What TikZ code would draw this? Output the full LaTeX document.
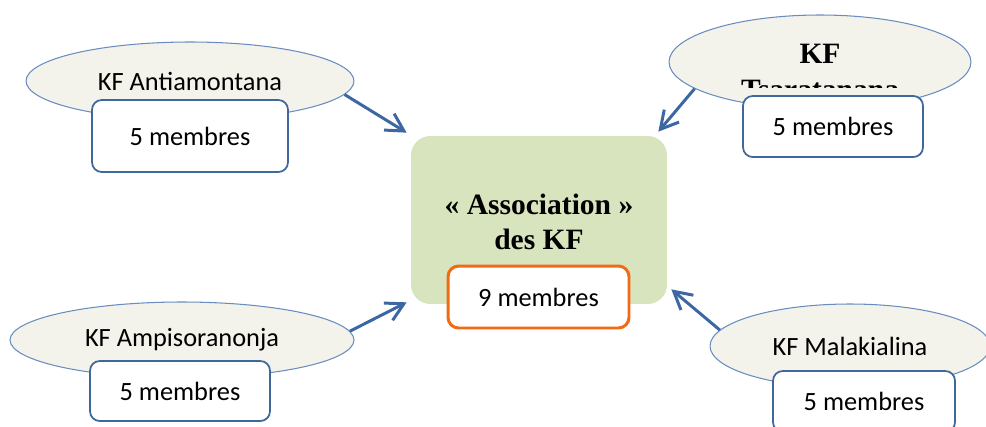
\documentclass[tikz,border=0pt]{standalone}
\usepackage{fontspec}
\setmainfont{Carlito}
\newfontfamily\titrefont{Liberation Serif}
\usetikzlibrary{shapes.geometric,arrows.meta}
\definecolor{flecheblue}{HTML}{3C67A3}
\definecolor{boxblue}{HTML}{41689C}
\definecolor{bordell}{HTML}{6A8DBF}
\definecolor{fondell}{HTML}{F3F2EB}
\definecolor{fondassoc}{HTML}{D7E4BD}
\definecolor{orangebox}{HTML}{F26B12}

\begin{document}
\begin{tikzpicture}[x=0.02cm,y=-0.02cm,
  kf/.style={ellipse,draw=bordell,line width=0.6pt,fill=fondell,inner sep=0pt,
    font=\fontsize{15}{18}\selectfont},
  nb/.style={draw=boxblue,line width=1pt,fill=white,rounded corners=5.5pt,
    font=\fontsize{15}{18}\selectfont},
  fleche/.style={draw=flecheblue,line width=1.7pt,-{Straight Barb[length=10pt,width=11pt]}}]
\useasboundingbox (0,0) rectangle (986,426);
\node[kf,minimum width=6.56cm,minimum height=1.56cm] (antia) at (190,81) {KF Antiamontana};
\node[kf,minimum width=6.04cm,minimum height=1.88cm] (tsara) at (820,62) {};
\begin{scope}
\clip (660,0) rectangle (980,87);
\node[align=center,font=\titrefont\bfseries\fontsize{16.8}{20}\selectfont] (tsaraNom) at (820,72) {KF\\Tsaratanana};
\end{scope}
\node[kf,minimum width=6.88cm,minimum height=1.52cm] (ampi) at (182,340) {KF Ampisoranonja};
\node[kf,minimum width=5.6cm,minimum height=1.68cm] (mala) at (850,346) {KF Malakialina};

\node[nb,minimum width=3.92cm,minimum height=1.44cm] (antiaNb) at (190,136) {5 membres};
\node[nb,minimum width=3.6cm,minimum height=1.22cm] (tsaraNb) at (833,126.5) {5 membres};
\node[nb,minimum width=3.6cm,minimum height=1.2cm] (ampiNb) at (180,391) {5 membres};
\node[nb,minimum width=3.64cm,minimum height=1.22cm] (malaNb) at (864,401.5) {5 membres};

\node[fill=fondassoc,rounded corners=11pt,minimum width=5.12cm,minimum height=3.36cm] (assoc) at (539,220) {};
\node[align=center,font=\titrefont\bfseries\fontsize{16.8}{20}\selectfont] (assocNom) at (539,222)
  {« Association »\\des KF};
\node[draw=orangebox,line width=1.7pt,fill=white,rounded corners=6pt,
  minimum width=3.62cm,minimum height=1.24cm,font=\fontsize{15}{18}\selectfont] (assocNb) at (538.5,297) {9 membres};

\draw[fleche] (antia.-5) -- ([shift={(-4,-3)}]assoc.north west);
\draw[fleche] (tsara.192.6) -- ([shift={(-9,-4)}]assoc.north east);
\draw[fleche] (ampi.3.4) -- ([shift={(-4,-2)}]assoc.south west);
\draw[fleche] (mala.173.3) -- ([shift={(4,-15)}]assoc.south east);
\end{tikzpicture}
\end{document}
